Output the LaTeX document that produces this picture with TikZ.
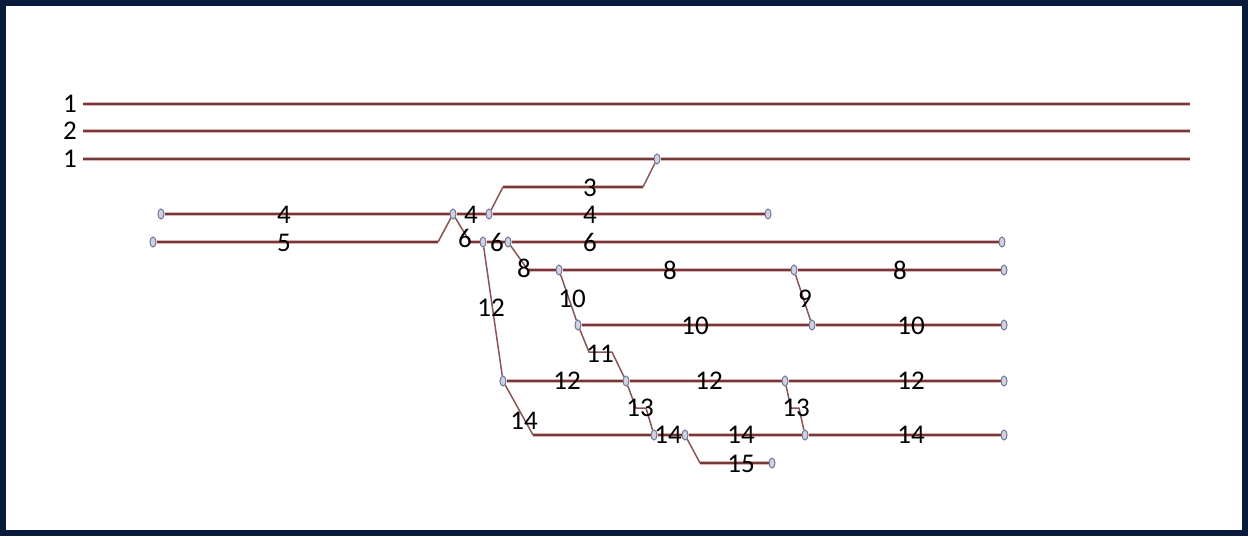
\documentclass[tikz,border=0pt]{standalone}
\usepackage{fontspec}
\setmainfont{Carlito}
\usepackage{tikz}
\usetikzlibrary{shapes.geometric}

\definecolor{framecol}{RGB}{8,26,60}
\definecolor{trackdark}{RGB}{112,58,58}
\definecolor{tracklight}{RGB}{226,176,176}
\definecolor{linkcol}{RGB}{135,85,85}
\definecolor{swfill}{RGB}{205,210,228}
\definecolor{swdraw}{RGB}{115,120,150}

\tikzset{
	track/.style={draw=trackdark, line width=2.2pt, preaction={draw=tracklight, line width=4pt}},
	link/.style={draw=linkcol, line width=1.5pt},
	sw/.style={ellipse, draw=swdraw, fill=swfill, line width=1pt, inner sep=0pt, minimum width=6pt, minimum height=10pt},
	num/.style={font=\fontsize{27}{32}\selectfont, inner sep=0pt}
}

\begin{document}
\begin{tikzpicture}[x=1pt, y=-1pt]
		\fill[framecol] (0,0) rectangle (1248,536);
		\fill[white] (6,6) rectangle (1242,530);
		\useasboundingbox (0,0) rectangle (1248,536);
		% switches
		\foreach \n/\x/\y in {s1/657/159, s4l/161/214, s4a/453/214, s4b/489/214, s4r/768/214,
			s5l/153/242, s6a/483/242, s6b/508/242, s6r/1002/242,
			s8a/559/270, s8b/794/270, s8r/1004/270,
			s10a/578/325, s10b/812/325, s10r/1004/325,
			s12a/503/381, s12b/626/381, s12c/785/381, s12r/1004/381,
			s14a/654/435, s14b/685/435, s14c/805/435, s14r/1004/435, s15r/772/463}
			\node[sw] (\n) at (\x,\y) {};
		% free ends and bends
		\coordinate (a1) at (83,104);
		\coordinate (b1) at (1190,104);
		\coordinate (a2) at (83,131);
		\coordinate (b2) at (1190,131);
		\coordinate (a3) at (83,159);
		\coordinate (b3) at (1190,159);
		\coordinate (c3a) at (643,187);
		\coordinate (c3b) at (503,187);
		\coordinate (c5) at (438,242);
		\coordinate (c6) at (470,242);
		\coordinate (c8) at (528,270);
		\coordinate (c11a) at (589,352);
		\coordinate (c11b) at (612,352);
		\coordinate (c13a) at (636,408);
		\coordinate (c13b) at (646,408);
		\coordinate (c13c) at (791,408);
		\coordinate (c13d) at (799,408);
		\coordinate (c14) at (533,435);
		\coordinate (c15) at (700,463);
		% main lines
		\draw[track] (a1) -- (b1);
		\draw[track] (a2) -- (b2);
		\draw[track] (a3) -- (s1) -- (b3);
		% branch 3
		\draw[link] (s1) -- (c3a);
		\draw[track] (c3a) -- (c3b);
		\draw[link] (c3b) -- (s4b);
		% lines 4 and 5
		\draw[track] (s4l) -- (s4a) -- (s4b) -- (s4r);
		\draw[track] (s5l) -- (c5);
		\draw[link] (c5) -- (s4a);
		% line 6
		\draw[link] (s4a) -- (c6);
		\draw[track] (c6) -- (s6a) -- (s6b) -- (s6r);
		% line 8
		\draw[link] (s6b) -- (c8);
		\draw[track] (c8) -- (s8a) -- (s8b) -- (s8r);
		% line 10
		\draw[link] (s8a) -- (s10a);
		\draw[link] (s8b) -- (s10b);
		\draw[track] (s10a) -- (s10b) -- (s10r);
		% line 12
		\draw[link] (s6a) -- (s12a);
		\draw[link] (s10a) -- (c11a) -- (c11b) -- (s12b);
		\draw[track] (s12a) -- (s12b) -- (s12c) -- (s12r);
		% line 14
		\draw[link] (s12a) -- (c14);
		\draw[link] (s12b) -- (c13a) -- (c13b) -- (s14a);
		\draw[link] (s12c) -- (c13c) -- (c13d) -- (s14c);
		\draw[track] (c14) -- (s14a) -- (s14b) -- (s14c) -- (s14r);
		% line 15
		\draw[link] (s14b) -- (c15);
		\draw[track] (c15) -- (s15r);
		% labels
		\foreach \n/\x/\y/\t in {l1a/70/104/1, l2/70/131/2, l1b/70/159/1,
			l3/590/188/3, l4a/284/215/4, l4b/471/215/4, l4c/590/215/4,
			l5/284/243/5, l6a/465/238/6, l6b/497/242/6, l6c/590/242/6,
			l8a/524/268/8, l8b/670/270/8, l8c/900/270/8,
			l10a/572/299/10, l9/805/299/9, l12a/491/308/12,
			l10b/695/326/10, l10c/911/326/10, l11/600/354/11,
			l12b/567/381/12, l12c/709/381/12, l12d/911/381/12,
			l13a/640/408/13, l13b/796/408/13, l14a/524/421/14,
			l14b/668/435/14, l14c/741/435/14, l14d/911/435/14, l15/741/464/15}
			\node[num] (\n) at (\x,\y) {\t};
	\end{tikzpicture}
\end{document}
